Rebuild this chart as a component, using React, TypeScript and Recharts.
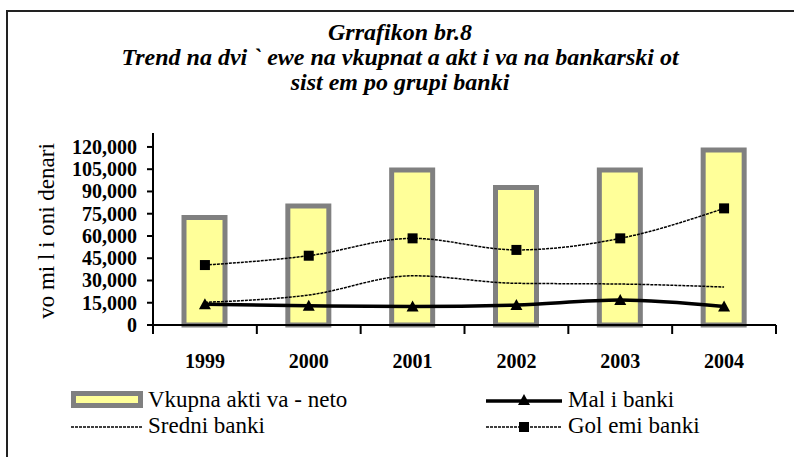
import React from "react";
import { ComposedChart, Bar, Line, XAxis, YAxis } from "recharts";

// --- data ---
const years = ["1999", "2000", "2001", "2002", "2003", "2004"];
const vkupnaAktiva = [72500, 80200, 104500, 92700, 104500, 118000];
const maliBanki = [14000, 13000, 12400, 13500, 16800, 12400];
const sredniBanki = [15300, 20200, 33200, 28100, 27600, 25600];
const golemiBanki = [40400, 46700, 58400, 50600, 58400, 78600];
const yTicks = [0, 15000, 30000, 45000, 60000, 75000, 90000, 105000, 120000];

const titleLines = [
  "Grrafikon br.8",
  "Trend na dvi ` ewe na vkupnat a akt i va na bankarski ot",
  "sist em po grupi banki",
];

const data = years.map((y, i) => ({
  year: y,
  vkupna: vkupnaAktiva[i],
  mali: maliBanki[i],
  sredni: sredniBanki[i],
  golemi: golemiBanki[i],
}));

// --- layout ---
const W = 794;
const H = 457;
const PLOT_LEFT = 153;
const PLOT_RIGHT = 776;
const PLOT_TOP = 133;
const PLOT_BOTTOM = 325;
const Y_AXIS_W = 80;
const X_AXIS_H = 30;
const BAND = (PLOT_RIGHT - PLOT_LEFT) / years.length;

const SERIF = "'Liberation Serif', 'Times New Roman', serif";

const fmt = (v: number) => v.toLocaleString("en-US");

const XTick = (props: any) => {
  const { x, y, payload, index } = props;
  const left = x - BAND / 2;
  const right = x + BAND / 2;
  return (
    <g>
      <line x1={left} y1={y} x2={left} y2={y + 9} stroke="#000" strokeWidth={2} />
      {index === years.length - 1 && (
        <line x1={right} y1={y} x2={right} y2={y + 9} stroke="#000" strokeWidth={2} />
      )}
      <text
        x={x}
        y={y + 43}
        textAnchor="middle"
        fontFamily={SERIF}
        fontWeight="bold"
        fontSize={20}
        fill="#000"
      >
        {payload.value}
      </text>
    </g>
  );
};

const YTick = (props: any) => {
  const { x, y, payload } = props;
  return (
    <g>
      <line x1={x + 10} y1={y} x2={x + 16} y2={y} stroke="#000" strokeWidth={2} />
      <text
        x={x}
        y={y + 7}
        textAnchor="end"
        fontFamily={SERIF}
        fontWeight="bold"
        fontSize={20}
        fill="#000"
      >
        {fmt(payload.value)}
      </text>
    </g>
  );
};

const SquareDot = (props: any) => {
  const { cx, cy } = props;
  if (cx == null || cy == null) return null;
  return <rect x={cx - 5} y={cy - 5} width={10} height={10} fill="#000" />;
};

const TriangleDot = (props: any) => {
  const { cx, cy } = props;
  if (cx == null || cy == null) return null;
  return (
    <polygon
      points={`${cx},${cy - 6} ${cx - 6},${cy + 5} ${cx + 6},${cy + 5}`}
      fill="#000"
    />
  );
};

const legendText: React.CSSProperties = {
  position: "absolute",
  fontFamily: SERIF,
  fontSize: 23,
  color: "#000",
  whiteSpace: "pre",
  lineHeight: "24px",
};

const ChartLegend = () => (
  <div style={{ position: "absolute", left: 0, top: 388, width: W, height: 50 }}>
    {/* Vkupna aktiva */}
    <svg style={{ position: "absolute", left: 71, top: 3 }} width={73} height={18}>
      <rect x={0} y={0} width={72} height={17} fill="#808080" />
      <rect x={5} y={5} width={62} height={7} fill="#ffff99" />
    </svg>
    <div style={{ ...legendText, left: 148, top: 0 }}>Vkupna akti va - neto</div>
    {/* Sredni */}
    <svg style={{ position: "absolute", left: 71, top: 34 }} width={73} height={10}>
      <line x1={0} y1={5} x2={72} y2={5} stroke="#000" strokeWidth={1.5} strokeDasharray="3 1" />
    </svg>
    <div style={{ ...legendText, left: 148, top: 26 }}>Sredni banki</div>
    {/* Mali */}
    <svg style={{ position: "absolute", left: 486, top: 3 }} width={78} height={18}>
      <line x1={0} y1={10} x2={76} y2={10} stroke="#000" strokeWidth={3.5} />
      <polygon points="38,3 32,14 44,14" fill="#000" />
    </svg>
    <div style={{ ...legendText, left: 568, top: 0 }}>Mal i banki</div>
    {/* Golemi */}
    <svg style={{ position: "absolute", left: 486, top: 30 }} width={78} height={18}>
      <line x1={0} y1={9} x2={76} y2={9} stroke="#000" strokeWidth={1.5} strokeDasharray="3 1" />
      <rect x={33} y={4} width={10} height={10} fill="#000" />
    </svg>
    <div style={{ ...legendText, left: 568, top: 26 }}>Gol emi banki</div>
  </div>
);

export default function App() {
  return (
    <div
      style={{
        position: "absolute",
        left: 0,
        top: 0,
        width: W,
        height: H,
        background: "#fff",
        overflow: "hidden",
      }}
    >
      {/* outer frame */}
      <div
        style={{
          position: "absolute",
          left: 6,
          top: 10,
          width: W,
          height: H,
          borderTop: "2px solid #222",
          borderLeft: "2px solid #222",
        }}
      />
      {/* title */}
      {titleLines.map((t, i) => (
        <div
          key={i}
          style={{
            position: "absolute",
            left: 6,
            width: W - 6,
            top: 20 + i * 25,
            textAlign: "center",
            fontFamily: SERIF,
            fontStyle: "italic",
            fontWeight: "bold",
            fontSize: 24,
            lineHeight: "25px",
            whiteSpace: "pre",
            color: "#000",
          }}
        >
          {t}
        </div>
      ))}
      {/* y axis title */}
      <div
        style={{
          position: "absolute",
          left: 47,
          top: 231,
          transform: "translate(-50%, -50%) rotate(-90deg)",
          fontFamily: SERIF,
          fontSize: 23,
          whiteSpace: "pre",
          color: "#000",
        }}
      >
        vo mi l i oni denari
      </div>
      <div style={{ position: "absolute", left: 0, top: 0 }}>
        <ComposedChart
          width={W}
          height={H}
          data={data}
          margin={{
            top: PLOT_TOP,
            right: W - PLOT_RIGHT,
            bottom: H - PLOT_BOTTOM - X_AXIS_H,
            left: PLOT_LEFT - Y_AXIS_W,
          }}
        >
          <XAxis
            dataKey="year"
            height={X_AXIS_H}
            axisLine={{ stroke: "#000", strokeWidth: 2 }}
            tickLine={false}
            tickSize={0}
            tickMargin={0}
            interval={0}
            tick={<XTick />}
          />
          <XAxis
            xAxisId="top"
            dataKey="year"
            orientation="top"
            height={0}
            axisLine={{ stroke: "#999", strokeWidth: 1.5 }}
            tick={false}
            tickLine={false}
          />
          <YAxis
            width={Y_AXIS_W}
            domain={[0, 129400]}
            ticks={yTicks}
            interval={0}
            axisLine={{ stroke: "#000", strokeWidth: 2 }}
            tickLine={false}
            tickSize={0}
            tickMargin={16}
            tick={<YTick />}
          />
          <YAxis
            yAxisId="right"
            orientation="right"
            width={0}
            domain={[0, 129400]}
            axisLine={{ stroke: "#999", strokeWidth: 1.5 }}
            tick={false}
            tickLine={false}
          />
          <Bar
            dataKey="vkupna"
            name="Vkupna aktiva - neto"
            barSize={41}
            fill="#ffff99"
            stroke="#808080"
            strokeWidth={5}
            isAnimationActive={false}
          />
          <Line
            type="monotone"
            dataKey="sredni"
            name="Sredni banki"
            stroke="#000"
            strokeWidth={1.5}
            strokeDasharray="3 1"
            dot={false}
            isAnimationActive={false}
          />
          <Line
            type="monotone"
            dataKey="golemi"
            name="Golemi banki"
            stroke="#000"
            strokeWidth={1.5}
            strokeDasharray="3 1"
            dot={<SquareDot />}
            isAnimationActive={false}
          />
          <Line
            type="monotone"
            dataKey="mali"
            name="Mali banki"
            stroke="#000"
            strokeWidth={3.5}
            dot={<TriangleDot />}
            isAnimationActive={false}
          />
        </ComposedChart>
      </div>
      <ChartLegend />
    </div>
  );
}
